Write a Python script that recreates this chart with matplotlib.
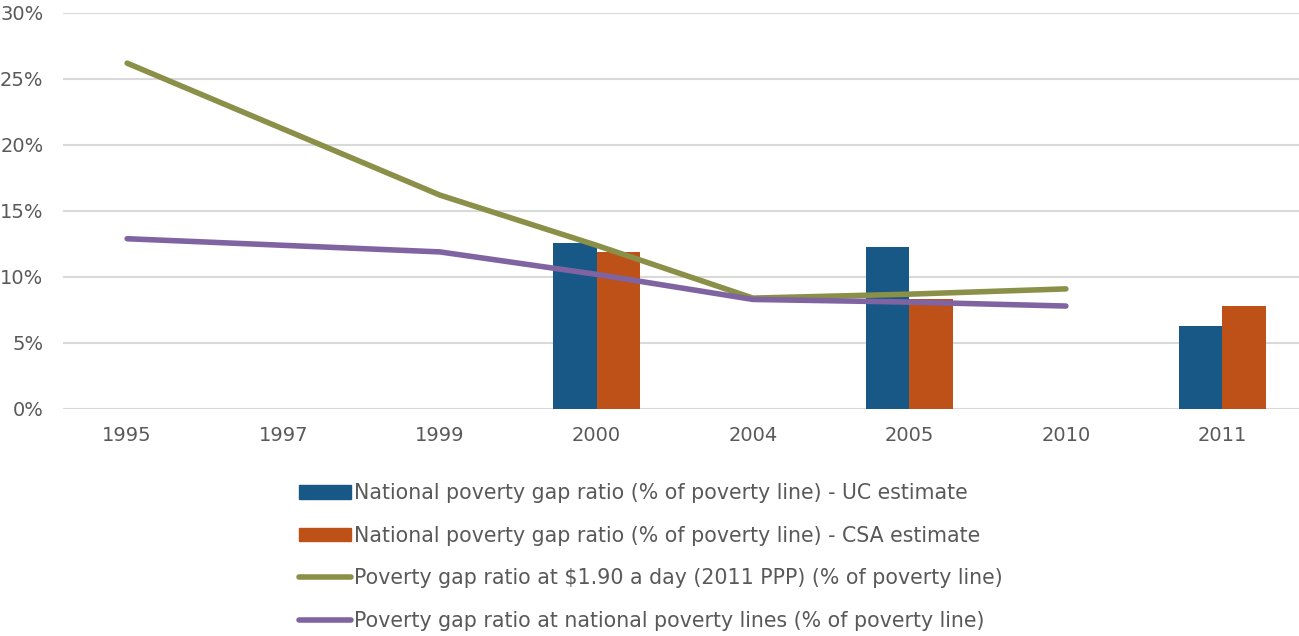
import numpy as np
import matplotlib.pyplot as plt
from matplotlib.lines import Line2D
from matplotlib.patches import Patch
from matplotlib.ticker import PercentFormatter

# Poverty gap ratios
years = ['1995', '1997', '1999', '2000', '2004', '2005', '2010', '2011']
uc_estimate = [np.nan, np.nan, np.nan, 12.6, np.nan, 12.3, np.nan, 6.3]
csa_estimate = [np.nan, np.nan, np.nan, 11.9, np.nan, 8.3, np.nan, 7.8]
gap_190 = [26.2, 21.2, 16.2, 12.4, 8.4, 8.7, 9.1, np.nan]
gap_national = [12.9, 12.4, 11.9, 10.2, 8.3, 8.1, 7.8, np.nan]

blue = '#175887'
orange = '#BD5118'
green = '#8A9048'
purple = '#8064A2'
text_col = '#595959'

plt.rcParams['font.family'] = 'DejaVu Sans'

fig = plt.figure(figsize=(12.99, 6.36), dpi=100)
ax = fig.add_axes([63 / 1299, 1 - 409 / 636, 1 - 63 / 1299, (409 - 13) / 636])

x = np.arange(len(years))
w = 0.28
ax.bar(x - w / 2, uc_estimate, w, color=blue, zorder=2)
ax.bar(x + w / 2, csa_estimate, w, color=orange, zorder=2)
ax.plot(x, gap_190, color=green, lw=4, solid_capstyle='round', zorder=3)
ax.plot(x, gap_national, color=purple, lw=4, solid_capstyle='round', zorder=3)

ax.set_xlim(-0.41, 7.49)
ax.set_ylim(0, 30)
ax.set_yticks(range(0, 31, 5))
ax.yaxis.set_major_formatter(PercentFormatter(decimals=0))
ax.set_xticks(x)
ax.set_xticklabels(years)
ax.grid(axis='y', color='#D9D9D9', lw=1.5, zorder=0)
for s in ax.spines.values():
    s.set_visible(False)
ax.tick_params(length=0, colors=text_col, labelsize=14)
ax.tick_params(axis='x', pad=12)
ax.tick_params(axis='y', pad=14)

handles = [
    Patch(color=blue),
    Patch(color=orange),
    Line2D([], [], color=green, lw=4, solid_capstyle='round'),
    Line2D([], [], color=purple, lw=4, solid_capstyle='round'),
]
labels = [
    'National poverty gap ratio (% of poverty line) - UC estimate',
    'National poverty gap ratio (% of poverty line) - CSA estimate',
    'Poverty gap ratio at $1.90 a day (2011 PPP) (% of poverty line)',
    'Poverty gap ratio at national poverty lines (% of poverty line)',
]
leg = fig.legend(handles, labels, loc='upper left', bbox_to_anchor=(291 / 1299, 1 - 475 / 636),
                 frameon=False, fontsize=14.8, handlelength=2.5, handleheight=0.65,
                 handletextpad=0.15, labelspacing=1.1, borderaxespad=0)
for t in leg.get_texts():
    t.set_color(text_col)

fig.savefig('out.png', dpi=100)
